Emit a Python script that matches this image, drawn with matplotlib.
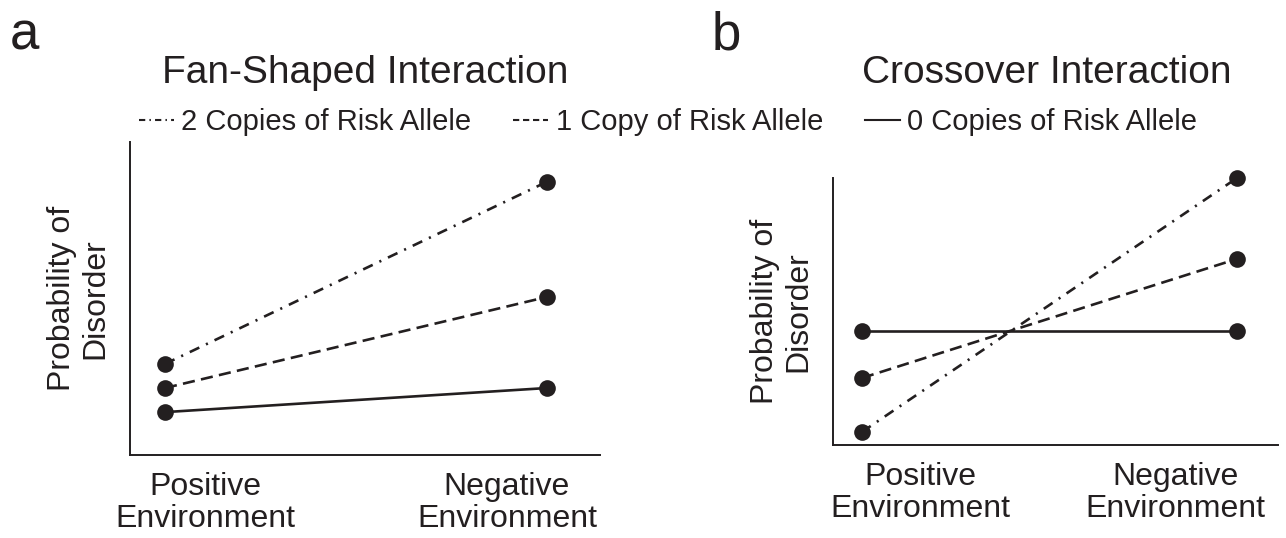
import matplotlib
matplotlib.use("Agg")
import matplotlib.pyplot as plt
from matplotlib.lines import Line2D

plt.rcParams['font.family'] = ['Liberation Sans', 'DejaVu Sans']
INK = '#231f20'

# data (y = probability in axis units)
env = [0, 1]
env_labels = ['Positive\nEnvironment', 'Negative\nEnvironment']
series_names = ['2 Copies of Risk Allele', '1 Copy of Risk Allele', '0 Copies of Risk Allele']

fan_two = [0.291, 0.873]
fan_one = [0.214, 0.505]
fan_zero = [0.137, 0.214]

cross_two = [0.049, 1.0]
cross_one = [0.251, 0.697]
cross_zero = [0.427, 0.427]

styles = [(0, (4.0, 2.8, 0.8, 2.8)), (0, (4.6, 2.4)), '-']
legend_styles = [(0, (3, 2, 0.7, 2)), (0, (3, 1.8)), '-']

W, H = 1286, 538
fig = plt.figure(figsize=(W / 100, H / 100), dpi=100)


def px_axes(left, right, top, bottom):
    return fig.add_axes([left / W, 1 - bottom / H, (right - left) / W, (bottom - top) / H])


def panel(ax, series, xlim, label_x):
    for ys, ls in zip(series, styles):
        ax.plot(env, ys, color=INK, lw=1.9, linestyle=ls, marker='o', ms=12,
                markeredgewidth=0, clip_on=False)
    ax.set_xlim(*xlim)
    ax.set_ylim(0, 1)
    for s in ['top', 'right']:
        ax.spines[s].set_visible(False)
    for s in ['left', 'bottom']:
        ax.spines[s].set_linewidth(1.4)
        ax.spines[s].set_color(INK)
    ax.set_yticks([])
    ax.set_xticks(label_x, env_labels, fontsize=23, color=INK, linespacing=1.08)
    ax.tick_params(axis='x', length=0, pad=12)
    ax.set_ylabel('Probability of\nDisorder', fontsize=23, color=INK, labelpad=14,
                  linespacing=1.15)


ax_a = px_axes(130, 600, 142, 455)
panel(ax_a, [fan_two, fan_one, fan_zero], (-0.0916, 1.1387), [0.105, 0.895])

ax_b = px_axes(833, 1278, 178, 445)
panel(ax_b, [cross_two, cross_one, cross_zero], (-0.0773, 1.1093), [0.155, 0.835])

fig.text(365 / W, 1 - 83 / H, 'Fan-Shaped Interaction', fontsize=28, color=INK,
         ha='center', va='baseline')
fig.text(1047 / W, 1 - 83 / H, 'Crossover Interaction', fontsize=28, color=INK,
         ha='center', va='baseline')
fig.text(10 / W, 1 - 50 / H, 'a', fontsize=38, color=INK, ha='left', va='baseline')
fig.text(712 / W, 1 - 50 / H, 'b', fontsize=38, color=INK, ha='left', va='baseline')

handles = [Line2D([], [], color=INK, lw=1.5, linestyle=ls) for ls in legend_styles]
fig.legend(handles, series_names, loc='center', bbox_to_anchor=(668 / W, 1 - 122 / H),
           ncol=3, frameon=False, fontsize=21, handlelength=1.2, handletextpad=0.25,
           columnspacing=1.45, labelcolor=INK, borderpad=0, borderaxespad=0)

fig.savefig('out.png', dpi=100)
